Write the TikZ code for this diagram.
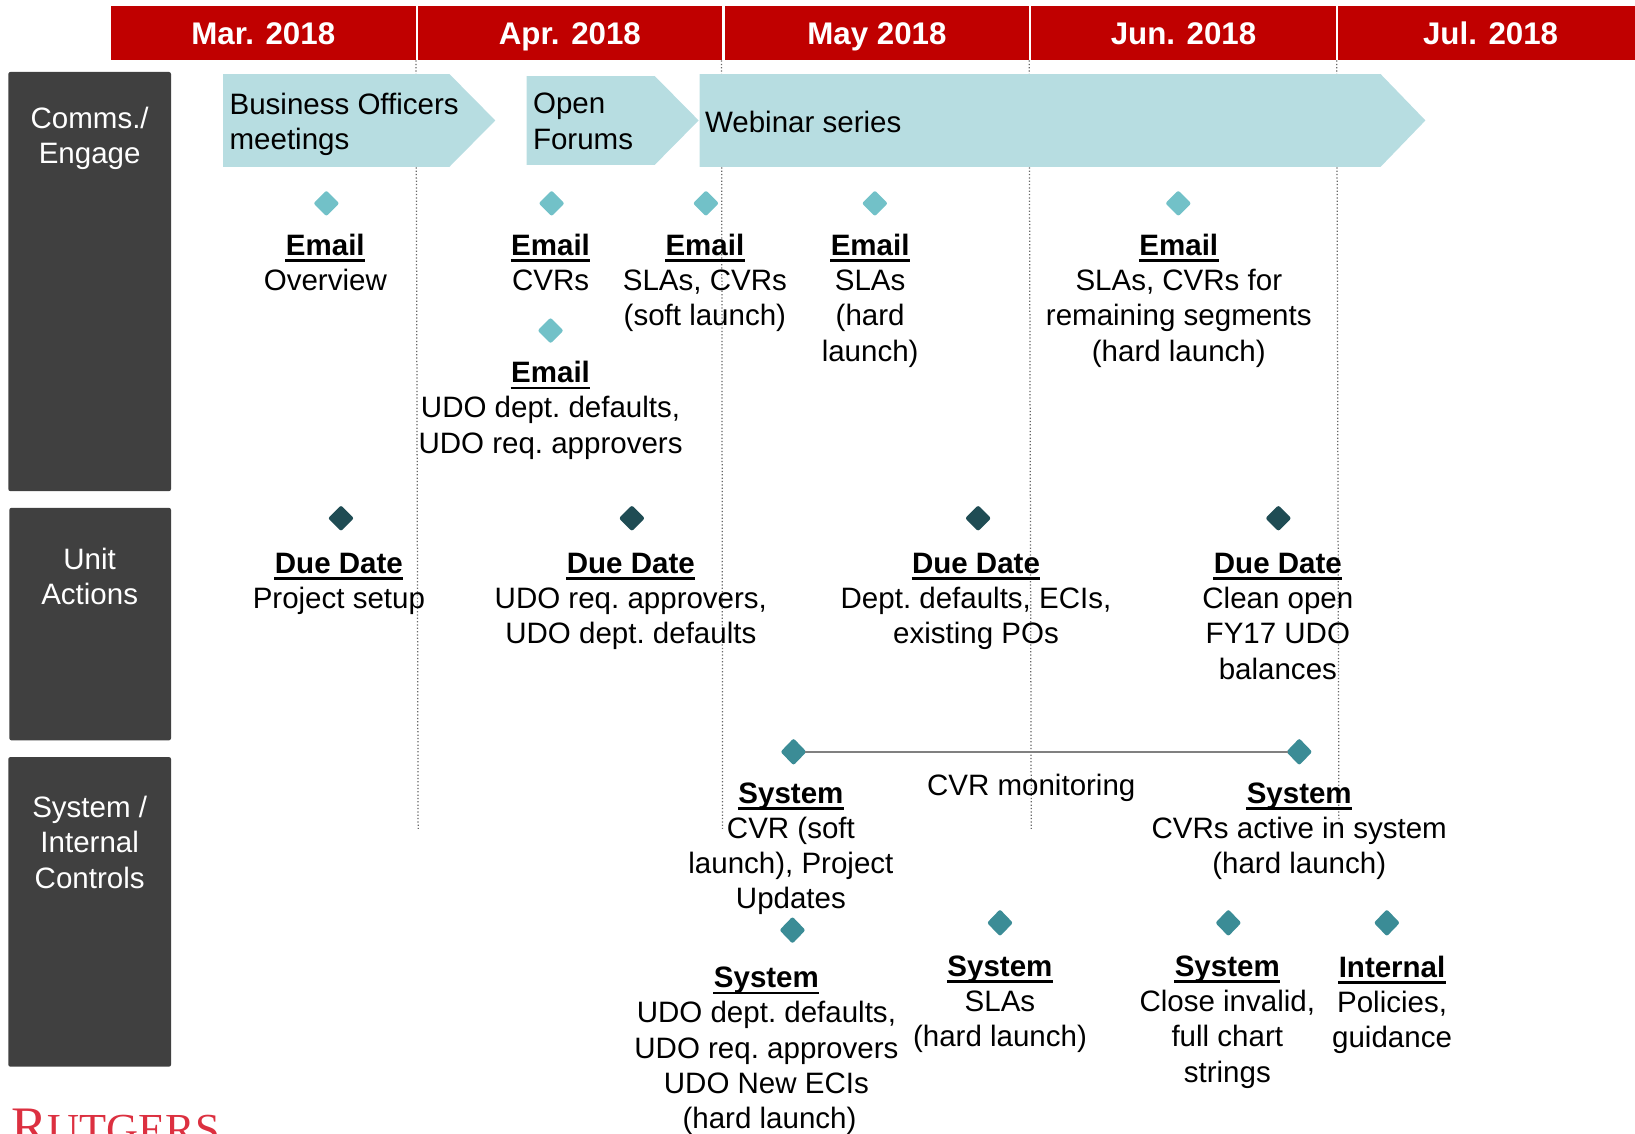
\documentclass[tikz,border=0pt]{standalone}
\usepackage{fontspec}
\setmainfont{Liberation Sans}
\newfontfamily\rufont{Liberation Serif}
\usetikzlibrary{shapes.geometric}
\definecolor{hdred}{HTML}{C00000}
\definecolor{sidegrey}{HTML}{404040}
\definecolor{chev}{HTML}{B7DDE1}
\definecolor{dlight}{HTML}{72C1C8}
\definecolor{ddark}{HTML}{1F4C54}
\definecolor{dteal}{HTML}{3B8C96}
\definecolor{rured}{HTML}{DC3040}
\frenchspacing
\newcommand\fs{\fontsize{28.3}{33.8}\selectfont}
\newcommand\hd[1]{\setbox0\hbox{\textbf{#1}}\rlap{\kern-0.5pt\rule[-6.2pt]{\dimexpr\wd0+1pt\relax}{2.4pt}}\box0}
\tikzset{
  hdr/.style={fill=hdred,text=white,inner sep=0,minimum height=52pt,text height=24pt,text depth=3pt,font=\nonfrenchspacing\fontsize{30}{34}\selectfont\bfseries},
  side/.style={fill=sidegrey,rounded corners=2pt,inner sep=0,minimum width=156pt},
  sidetxt/.style={text=white,inner sep=0,align=center,font=\fs,anchor=north,yshift=-2.3pt,execute at begin node=\strut},
  txt/.style={inner sep=0,align=center,font=\fs,anchor=north,text=black,yshift=-2.3pt,execute at begin node=\strut},
  chevtxt/.style={inner sep=0,align=left,font=\fs,anchor=north west,text=black,yshift=-2.3pt,execute at begin node=\strut},
  chevron/.style={fill=chev},
  vline/.style={draw=black!60,line width=1.2pt,dotted},
  dia/.style={diamond,inner sep=0,aspect=1,rounded corners=2pt,minimum width=25pt,minimum height=25pt},
  dl/.style={dia,fill=dlight},
  dd/.style={dia,fill=ddark},
  dt/.style={dia,fill=dteal,minimum width=25pt,minimum height=26pt},
}
\begin{document}
\begin{tikzpicture}[x=1pt,y=-1pt]
\path[use as bounding box,clip] (0,0) rectangle (1568,1087.5);
% month grid lines
\coordinate (g1a) at (399,58); \coordinate (g1b) at (401,795);
\coordinate (g2a) at (692,58); \coordinate (g2b) at (693,795);
\coordinate (g3a) at (987,58); \coordinate (g3b) at (989,795);
\coordinate (g4a) at (1282,58); \coordinate (g4b) at (1284,786);
\draw[vline] (g1a) -- (g1b);
\draw[vline] (g2a) -- (g2b);
\draw[vline] (g3a) -- (g3b);
\draw[vline] (g4a) -- (g4b);
% header
\node[hdr,minimum width=292pt] (m1) at (252.5,32) {Mar. 2018};
\node[hdr,minimum width=291pt] (m2) at (546.5,32) {Apr. 2018};
\node[hdr,minimum width=292pt] (m3) at (841,32) {May 2018};
\node[hdr,minimum width=292pt] (m4) at (1135,32) {Jun. 2018};
\node[hdr,minimum width=285pt] (m5) at (1425.5,32) {\hspace*{8pt}Jul. 2018};
% side boxes
\node[side,minimum height=402pt] (s1) at (86,270) {};
\node[side,minimum height=223pt,minimum width=155pt] (s2) at (86.5,598.5) {};
\node[side,minimum height=297pt] (s3) at (86,874.5) {};
\node[sidetxt] (s1t) at (86,100) {Comms./\\Engage};
\node[sidetxt] (s2t) at (86,523) {Unit\\Actions};
\node[sidetxt] (s3t) at (86,761) {System /\\Internal\\Controls};
% chevrons
\fill[chevron] (214,71) -- (431,71) -- (475,115.5) -- (431,160) -- (214,160) -- cycle;
\fill[chevron] (505,73) -- (628,73) -- (670,115.5) -- (628,158) -- (505,158) -- cycle;
\fill[chevron] (671,71) -- (1324,71) -- (1367,115.5) -- (1324,160) -- (671,160) -- cycle;
\node[chevtxt] (c1) at (220,87) {Business Officers\\meetings};
\node[chevtxt] (c2) at (511,87) {Open\\Forums};
\node[chevtxt] (c3) at (676,101) {Webinar series};
% comms
\node[dl] (d1) at (313,195) {};
\node[dl] (d2) at (529,195) {};
\node[dl] (d3) at (677,195) {};
\node[dl] (d4) at (839,195) {};
\node[dl] (d5) at (1130,195) {};
\node[dl] (d6) at (528,317) {};
\node[txt] (t1) at (312,222) {\hd{Email}\\Overview};
\node[txt] (t2) at (528,222) {\hd{Email}\\CVRs};
\node[txt] (t3) at (676,222) {\hd{Email}\\SLAs, CVRs\\(soft launch)};
\node[txt] (t4) at (834.5,222) {\hd{Email}\\SLAs\\(hard\\launch)};
\node[txt] (t5) at (1130.5,222) {\hd{Email}\\SLAs, CVRs for\\remaining segments\\(hard launch)};
\node[txt] (t6) at (528,344) {\hd{Email}\\UDO dept. defaults,\\UDO req. approvers};
% unit actions
\node[dd] (u1) at (327,497) {};
\node[dd] (u2) at (606,497) {};
\node[dd] (u3) at (938,497) {};
\node[dd] (u4) at (1226,497) {};
\node[txt] (v1) at (325,528) {\hd{Due Date}\\Project setup};
\node[txt] (v2) at (605,528) {\hd{Due Date}\\UDO req. approvers,\\UDO dept. defaults};
\node[txt] (v3) at (936,528) {\hd{Due Date}\\Dept. defaults, ECIs,\\existing POs};
\node[txt] (v4) at (1225.5,528) {\hd{Due Date}\\Clean open\\FY17 UDO\\balances};
% system
\node[dt] (w1) at (761,721) {};
\node[dt] (w2) at (1246,721) {};
\draw[draw=black!50,line width=2.2pt,shorten >=-1.5pt,shorten <=-1.5pt] (w1) -- (w2);
\node[txt] (cm) at (989,737) {CVR monitoring};
\node[txt] (x1) at (758.5,748) {\hd{System}\\CVR (soft\\launch), Project\\Updates};
\node[txt] (x2) at (1246,748) {\hd{System}\\CVRs active in system\\(hard launch)};
\node[dt] (w3) at (760,892) {};
\node[dt] (w4) at (959,885) {};
\node[dt] (w5) at (1178,885) {};
\node[dt] (w6) at (1330,885) {};
\node[txt] (y1) at (735,925) {\hd{System}\\UDO dept. defaults,\\UDO req. approvers\\UDO New ECIs\\\hspace*{6pt}(hard launch)};
\node[txt] (y2) at (959,914) {\hd{System}\\SLAs\\(hard launch)};
\node[txt] (y3) at (1177,914) {\hd{System}\\Close invalid,\\full chart\\strings};
\node[txt] (y4) at (1335,914) {\hd{Internal}\\Policies,\\guidance};
% logo
\node[anchor=base west,inner sep=0,text=rured] (logo) at (11,1098) {\rufont\fontsize{52}{52}\selectfont R\fontsize{42.5}{42.5}\selectfont UTGERS};
\end{tikzpicture}
\end{document}
